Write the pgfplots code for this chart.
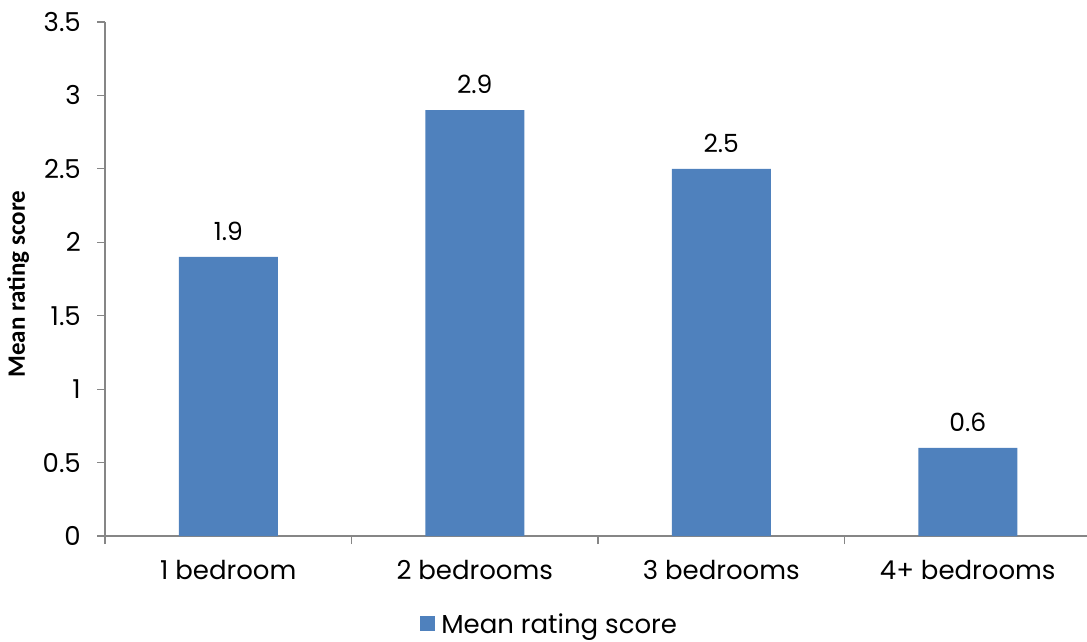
\documentclass[border=0pt]{standalone}
\usepackage{pgfplots}
\pgfplotsset{compat=1.18}
\usepackage{fontspec}
\setmainfont{Poppins}
\newfontfamily\labelfont{Carlito}
\definecolor{barblue}{HTML}{4F81BD}
\definecolor{axgray}{HTML}{868686}
\begin{document}
\begin{tikzpicture}
\useasboundingbox (0,0) rectangle (1087pt,641pt);
\begin{axis}[
  at={(105pt,105pt)}, anchor=south west,
  scale only axis, width=986pt, height=514pt,
  xmin=-0.5, xmax=3.5, ymin=0, ymax=3.5,
  axis x line*=bottom, axis y line*=left,
  axis line style={axgray, line width=1.2pt, -},
  tick align=outside,
  major tick length=8pt,
  tick style={axgray, line width=1.2pt},
  xtick={-0.5,0.5,1.5,2.5,3.5}, xticklabels={},
  extra x ticks={0,1,2,3},
  extra x tick labels={1 bedroom,2 bedrooms,3 bedrooms,4+ bedrooms},
  extra x tick style={major tick length=0pt, tick style={draw=none}},
  xticklabel style={anchor=center, yshift=-34pt, font=\fontsize{26}{28}\selectfont},
  ytick={0,0.5,1,1.5,2,2.5,3,3.5},
  yticklabel style={anchor=east, inner sep=0pt, xshift=-16pt, font=\fontsize{26}{28}\selectfont},
  /pgf/number format/assume math mode=true,
  /pgf/number format/fixed,
  ylabel={\labelfont\bfseries Mean rating score},
  ylabel style={at={(axis description cs:-0.088,0.49)}, anchor=center, font=\fontsize{25}{27}\selectfont},
  ybar, bar width=99pt,
  nodes near coords,
  nodes near coords style={font=\fontsize{25}{27}\selectfont, black, yshift=13pt, /pgf/number format/fixed, /pgf/number format/precision=1},
  legend style={at={(axis description cs:0.451,-0.171)}, anchor=center, draw=none, fill=none, font=\fontsize{26}{28}\selectfont, /tikz/every even column/.append style={column sep=0pt}},
  legend image code/.code={\fill[barblue] (0pt,-7.5pt) rectangle (15pt,7.5pt);},
]
\addplot[fill=barblue, draw=none] coordinates {(0,1.9) (1,2.9) (2,2.5) (3,0.6)};
\addlegendentry{\hspace{4pt}Mean rating score}
\end{axis}
\end{tikzpicture}
\end{document}
